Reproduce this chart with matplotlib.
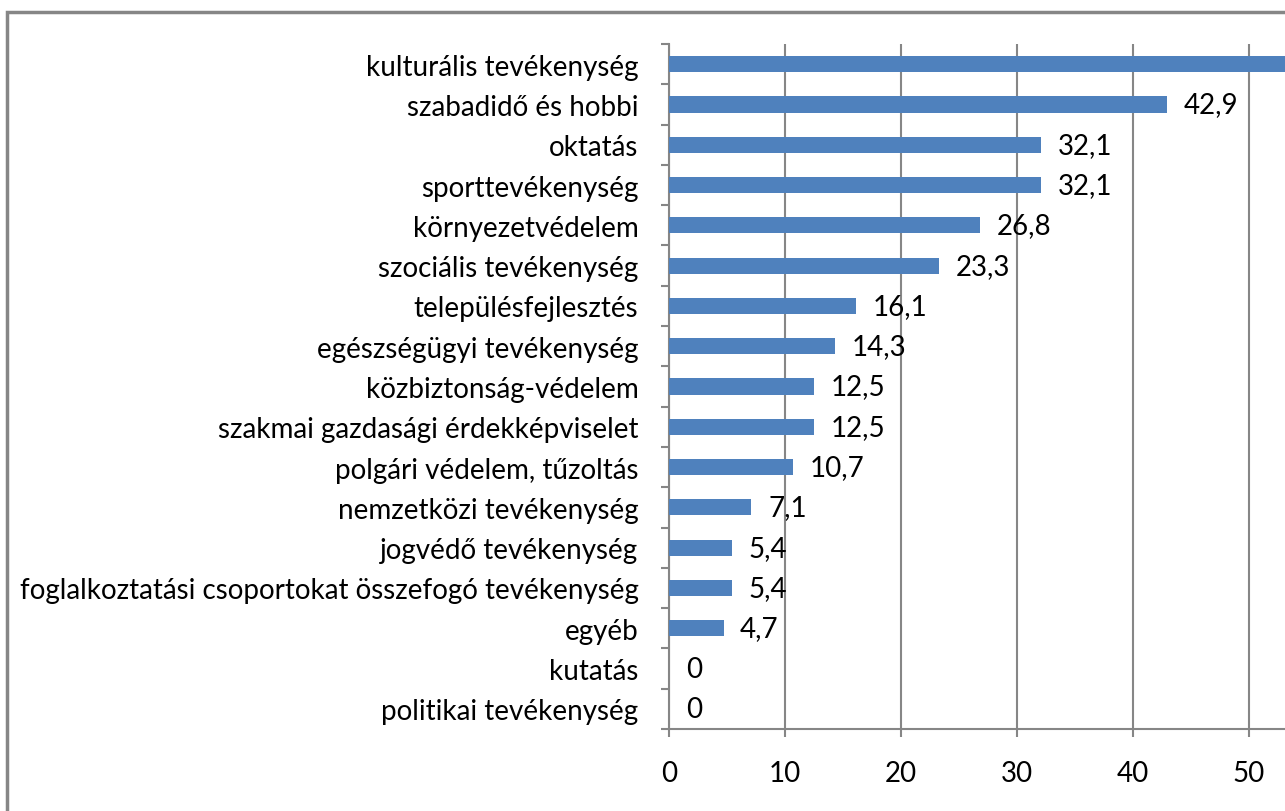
import matplotlib
import matplotlib.pyplot as plt
from matplotlib.patches import Rectangle
matplotlib.use('Agg')

categories = ['kulturális tevékenység', 'szabadidő és hobbi', 'oktatás',
              'sporttevékenység', 'környezetvédelem', 'szociális tevékenység',
              'településfejlesztés', 'egészségügyi tevékenység',
              'közbiztonság-védelem', 'szakmai gazdasági érdekképviselet',
              'polgári védelem, tűzoltás', 'nemzetközi tevékenység',
              'jogvédő tevékenység',
              'foglalkoztatási csoportokat összefogó tevékenység',
              'egyéb', 'kutatás', 'politikai tevékenység']
values = [53.6, 42.9, 32.1, 32.1, 26.8, 23.3, 16.1, 14.3, 12.5, 12.5, 10.7,
          7.1, 5.4, 5.4, 4.7, 0, 0]
x_ticks = [0, 10, 20, 30, 40, 50]

plt.rcParams['font.family'] = ['Lato', 'DejaVu Sans']
FS = 20

W, H = 1285, 812
fig = plt.figure(figsize=(W / 100, H / 100), dpi=100)

# axes: x=0 at px 669, 11.6 px per unit; the chart is cut at the right edge
left = 669 / W
width = 1 - left
bottom = 1 - 730 / H
height = (730 - 45) / H
ax = fig.add_axes([left, bottom, width, height])

n = len(categories)
pos = list(range(n))
ax.barh(pos, values, height=0.4, color='#4f81bd', zorder=3)
ax.set_ylim(n - 0.5, -0.5)
ax.set_xlim(0, (W - 669) / 11.6)

for p, v in zip(pos, values):
    txt = '0' if v == 0 else ('%.1f' % v).replace('.', ',')
    ax.annotate(txt, (v, p), xytext=(12, 0), textcoords='offset points',
                ha='left', va='center', fontsize=FS, color='black',
                annotation_clip=True)

ax.set_yticks([p - 0.5 for p in pos] + [n - 0.5])
ax.set_yticklabels([])
ax.set_yticks(pos, minor=True)
ax.set_yticklabels(categories, minor=True, fontsize=FS)
ax.tick_params(axis='y', which='minor', length=0, pad=22)
ax.tick_params(axis='y', which='major', length=6, color='#868686', width=1.5)

ax.set_xticks(x_ticks)
ax.set_xticklabels([str(t) for t in x_ticks], fontsize=FS)
ax.tick_params(axis='x', length=6, color='#868686', width=1.5, pad=16)
ax.grid(axis='x', color='#868686', linewidth=1.5, zorder=0)

for side in ['top', 'right']:
    ax.spines[side].set_visible(False)
for side in ['left', 'bottom']:
    ax.spines[side].set_color('#868686')
    ax.spines[side].set_linewidth(1.5)

# outer chart frame, cut off at right and bottom
fig.patches.append(Rectangle((7 / W, -0.1), 1.2, 1 - 13 / H + 0.1,
                             transform=fig.transFigure, fill=False,
                             edgecolor='#868686', linewidth=2.5))

plt.savefig('out.png', dpi=100)
